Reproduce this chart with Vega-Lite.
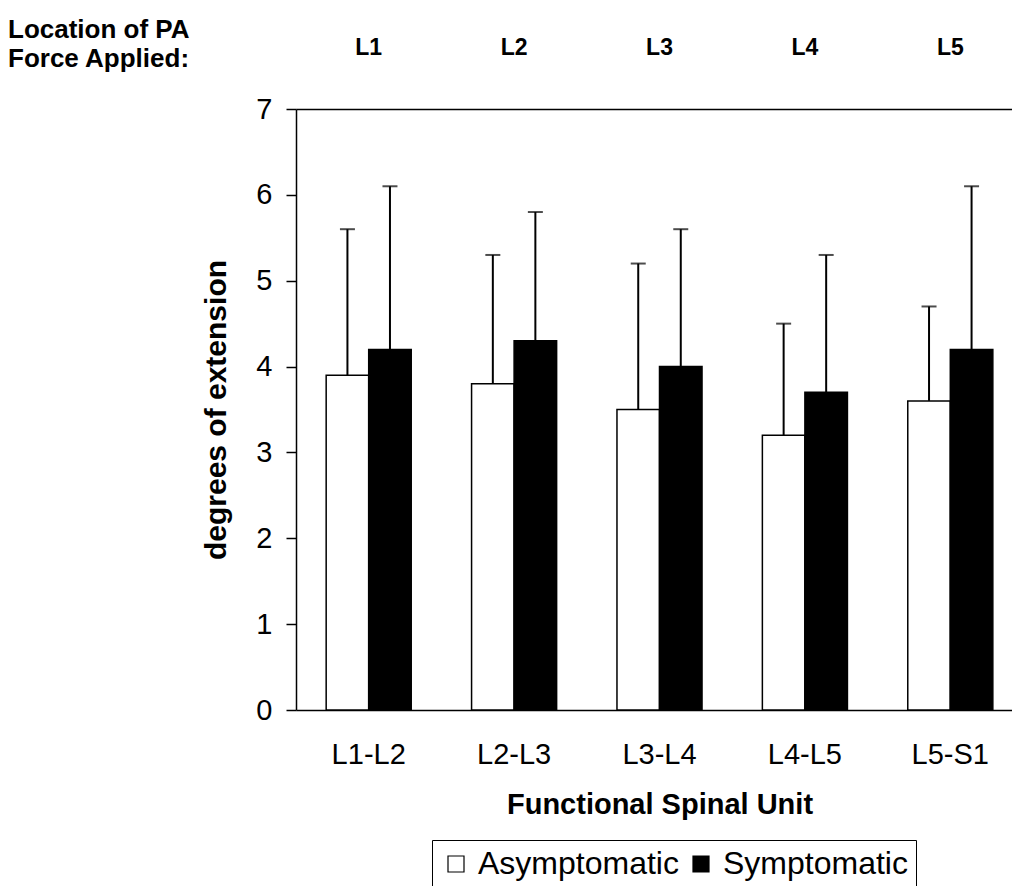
{
  "$schema": "https://vega.github.io/schema/vega-lite/v6.json",
  "width": 716,
  "height": 601,
  "autosize": "none",
  "padding": {"left": 296, "top": 109, "right": 0, "bottom": 176},
  "background": "white",
  "config": {
    "font": "Liberation Sans",
    "view": {"stroke": null},
    "axis": {"grid": false, "domainColor": "black", "tickColor": "black", "labelColor": "black", "titleColor": "black", "labelFont": "Liberation Sans", "titleFont": "Liberation Sans"}
  },
  "title": {
    "text": ["Location of PA", "Force Applied:"],
    "anchor": "start",
    "frame": "group",
    "dx": -288,
    "dy": 40,
    "font": "Liberation Sans",
    "fontSize": 26,
    "fontWeight": "bold",
    "lineHeight": 29,
    "color": "black"
  },
  "data": {
    "values": [
      {"unit": "L1-L2", "group": "Asymptomatic", "mean": 3.9, "upper": 5.6},
      {"unit": "L1-L2", "group": "Symptomatic", "mean": 4.2, "upper": 6.1},
      {"unit": "L2-L3", "group": "Asymptomatic", "mean": 3.8, "upper": 5.3},
      {"unit": "L2-L3", "group": "Symptomatic", "mean": 4.3, "upper": 5.8},
      {"unit": "L3-L4", "group": "Asymptomatic", "mean": 3.5, "upper": 5.2},
      {"unit": "L3-L4", "group": "Symptomatic", "mean": 4.0, "upper": 5.6},
      {"unit": "L4-L5", "group": "Asymptomatic", "mean": 3.2, "upper": 4.5},
      {"unit": "L4-L5", "group": "Symptomatic", "mean": 3.7, "upper": 5.3},
      {"unit": "L5-S1", "group": "Asymptomatic", "mean": 3.6, "upper": 4.7},
      {"unit": "L5-S1", "group": "Symptomatic", "mean": 4.2, "upper": 6.1}
    ]
  },
  "resolve": {"axis": {"x": "independent"}},
  "layer": [
    {
      "mark": {"type": "rule", "stroke": "black", "strokeWidth": 2},
      "encoding": {
        "x": {"field": "unit", "type": "nominal", "sort": null,
              "scale": {"paddingInner": 0.415, "paddingOuter": 0.2075, "range": [0, 727]},
              "axis": {"orient": "top", "title": null, "ticks": false, "domain": true, "domainWidth": 1.5, "labelAngle": 0,
                       "labelExpr": "slice(datum.value, 0, 2)", "labelFontSize": 23, "labelFontWeight": "bold", "labelPadding": 50}},
        "xOffset": {"field": "group", "type": "nominal"},
        "y": {"field": "mean", "type": "quantitative", "scale": {"domain": [0, 7]}},
        "y2": {"field": "upper"}
      }
    },
    {
      "mark": {"type": "tick", "color": "black", "thickness": 2, "size": 15, "orient": "horizontal"},
      "encoding": {
        "x": {"field": "unit", "type": "nominal", "sort": null, "axis": null},
        "xOffset": {"field": "group", "type": "nominal"},
        "y": {"field": "upper", "type": "quantitative"}
      }
    },
    {
      "mark": {"type": "bar", "stroke": "black", "strokeWidth": 1.5},
      "encoding": {
        "x": {"field": "unit", "type": "nominal", "sort": null,
              "axis": {"orient": "bottom", "title": "Functional Spinal Unit", "ticks": false, "domainWidth": 1.5, "labelAngle": 0,
                       "labelFontSize": 29, "labelPadding": 30, "titleFontSize": 29, "titleFontWeight": "bold", "titlePadding": 21}},
        "xOffset": {"field": "group", "type": "nominal"},
        "y": {"field": "mean", "type": "quantitative",
              "scale": {"domain": [0, 7]},
              "axis": {"title": "degrees of extension", "values": [0, 1, 2, 3, 4, 5, 6, 7], "format": "d", "tickSize": 10, "tickWidth": 1.5, "domainWidth": 1.5,
                       "labelFontSize": 29, "labelPadding": 14, "titleFontSize": 30, "titleFontWeight": "bold", "titlePadding": 24}},
        "color": {"field": "group", "type": "nominal",
                  "scale": {"domain": ["Asymptomatic", "Symptomatic"], "range": ["white", "black"]},
                  "legend": {"title": null, "orient": "none", "legendX": 136, "legendY": 731, "direction": "horizontal",
                             "strokeColor": "black", "padding": 8, "symbolType": "square", "symbolSize": 256,
                             "symbolStrokeColor": "black", "symbolStrokeWidth": 1.2, "labelFontSize": 32, "labelColor": "black",
                             "labelFont": "Liberation Sans", "labelLimit": 0, "columnPadding": 6, "labelOffset": 6}}
      }
    }
  ]
}
